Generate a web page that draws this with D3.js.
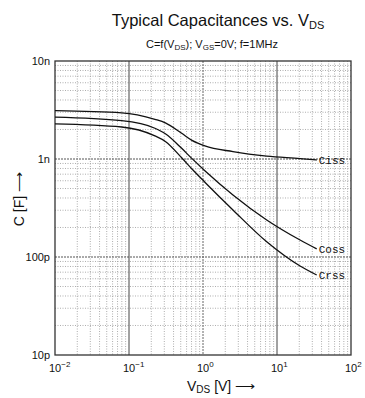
<!DOCTYPE html>
<html><head><meta charset="utf-8">
<script src="https://cdn.jsdelivr.net/npm/d3@7/dist/d3.min.js"></script>
<style>body{margin:0;background:#fff}svg{display:block}text{font-family:"Liberation Sans",Arial,sans-serif;fill:#111}</style>
</head><body><svg id="c" width="365" height="398"></svg>
<script>
// Data (V in volts, C in farads)
const seriesNames = ["Ciss", "Coss", "Crss"];
const vds = [0.01, 0.0796, 0.224, 0.31, 0.515, 0.70, 1.06, 2.54, 7.26, 20.5, 34.4];
const ciss = [3.11e-9, 2.96e-9, 2.54e-9, 2.34e-9, 1.83e-9, 1.56e-9, 1.36e-9, 1.19e-9, 1.07e-9, 1.01e-9, 0.977e-9];
const coss = [2.67e-9, 2.46e-9, 2.06e-9, 1.81e-9, 1.285e-9, 1.02e-9, 0.76e-9, 0.43e-9, 0.239e-9, 0.149e-9, 0.121e-9];
const crss = [2.28e-9, 2.12e-9, 1.72e-9, 1.51e-9, 1.03e-9, 0.80e-9, 0.58e-9, 0.302e-9, 0.143e-9, 80.9e-12, 65.5e-12];
const yTickValues = [1e-11, 1e-10, 1e-9, 1e-8];
const yTickLabels = ["10p", "100p", "1n", "10n"];
const xTickValues = [0.01, 0.1, 1, 10, 100];
const xTickExps = ["-2", "-1", "0", "1", "2"];

const svg = d3.select("#c");
const L = 55, R = 351, T = 61, B = 355;
const x = d3.scaleLog().domain([0.01, 100]).range([L, R]);
const y = d3.scaleLog().domain([1e-11, 1e-8]).range([B, T]);

const g = svg.append("g");
// minor grid
const minorX = [], minorY = [];
for (let e = -2; e < 2; e++) for (let m = 2; m <= 9; m++) minorX.push(m * Math.pow(10, e));
for (let e = -11; e < -8; e++) for (let m = 2; m <= 9; m++) minorY.push(m * Math.pow(10, e));
g.selectAll(".mx").data(minorX).join("line")
  .attr("x1", d => x(d)).attr("x2", d => x(d)).attr("y1", T).attr("y2", B)
  .attr("stroke", "#999").attr("stroke-width", 0.8).attr("stroke-dasharray", "1,1.5");
g.selectAll(".my").data(minorY).join("line")
  .attr("y1", d => y(d)).attr("y2", d => y(d)).attr("x1", L).attr("x2", R)
  .attr("stroke", "#999").attr("stroke-width", 0.8).attr("stroke-dasharray", "1,1.5");
// major grid
g.selectAll(".Mx").data([0.1, 10]).join("line")
  .attr("x1", d => x(d)).attr("x2", d => x(d)).attr("y1", T).attr("y2", B)
  .attr("stroke", "#444").attr("stroke-width", 1);
g.selectAll(".Mx0").data([1]).join("line")
  .attr("x1", d => x(d)).attr("x2", d => x(d)).attr("y1", T).attr("y2", B)
  .attr("stroke", "#666").attr("stroke-width", 1).attr("stroke-dasharray", "2,1");
g.selectAll(".My").data(yTickValues.slice(1, -1)).join("line")
  .attr("y1", d => y(d)).attr("y2", d => y(d)).attr("x1", L).attr("x2", R)
  .attr("stroke", "#555").attr("stroke-width", 1).attr("stroke-dasharray", "2,1");
// frame
svg.append("rect").attr("x", L).attr("y", T).attr("width", R - L).attr("height", B - T)
  .attr("fill", "none").attr("stroke", "#333").attr("stroke-width", 1.3);

// curves
const line = d3.line().x(d => x(d[0])).y(d => y(d[1])).curve(d3.curveMonotoneX);
const all = [ciss, coss, crss];
all.forEach((s, i) => {
  const pts = vds.map((v, k) => [v, s[k]]);
  svg.append("path").attr("d", line(pts)).attr("fill", "none")
    .attr("stroke", "#111").attr("stroke-width", 1.3);
  const last = pts[pts.length - 1];
  svg.append("text").attr("x", x(last[0]) + 2).attr("y", y(last[1]) + 4)
    .style("font-family", "'Liberation Mono',monospace").style("font-size", "11px")
    .text(seriesNames[i]);
});

// y tick labels
svg.selectAll(".yl").data(yTickValues).join("text")
  .attr("x", L - 5).attr("y", d => y(d) + 4).attr("text-anchor", "end")
  .style("font-size", "11px").text((d, i) => yTickLabels[i]);
// x tick labels
xTickValues.forEach((v, i) => {
  const t = svg.append("text").attr("x", x(v) - 6).attr("y", 372).style("font-size", "11px");
  t.append("tspan").text("10");
  t.append("tspan").attr("dy", -5).style("font-size", "8px").text(xTickExps[i].replace("-", "\u2212"));
});

// titles
const tt = svg.append("text").attr("x", 218).attr("y", 26).attr("text-anchor", "middle").style("font-size", "16.5px");
tt.append("tspan").text("Typical Capacitances vs. V");
tt.append("tspan").attr("dy", 3).style("font-size", "11px").text("DS");
const st = svg.append("text").attr("x", 212).attr("y", 48).attr("text-anchor", "middle").style("font-size", "11px");
st.append("tspan").text("C=f(V");
st.append("tspan").attr("dy", 2).style("font-size", "8px").text("DS");
st.append("tspan").attr("dy", -2).text("); V");
st.append("tspan").attr("dy", 2).style("font-size", "8px").text("GS");
st.append("tspan").attr("dy", -2).text("=0V; f=1MHz");

const xt = svg.append("text").attr("x", 187).attr("y", 391).attr("text-anchor", "start").style("font-size", "14px");
xt.append("tspan").text("V");
xt.append("tspan").attr("dy", 2).style("font-size", "10px").text("DS");
xt.append("tspan").attr("dy", -2).text(" [V]  \u27F6");

svg.append("text").attr("transform", "translate(24,172) rotate(-90)").attr("text-anchor", "end")
  .style("font-size", "14px").text("C [F]  \u27F6");
</script></body></html>
